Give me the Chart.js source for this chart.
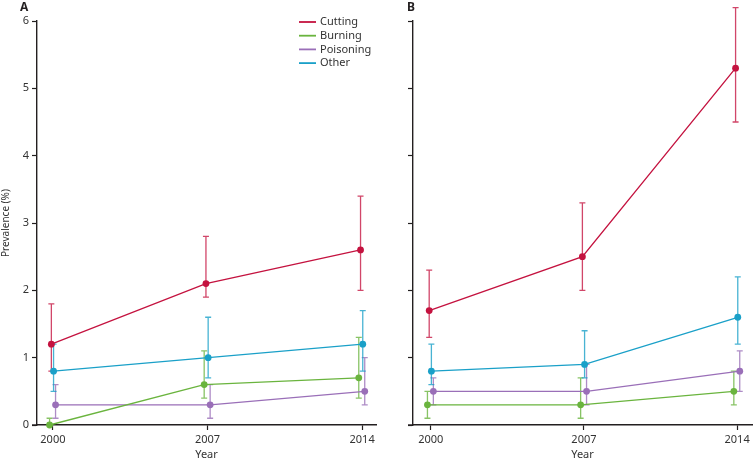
<!DOCTYPE html>
<html><head><meta charset="utf-8">
<script src="https://cdn.jsdelivr.net/npm/chart.js@4/dist/chart.umd.min.js"></script>
<style>
html,body{margin:0;padding:0;background:#fff;}
#wrap{position:relative;width:756px;height:461px;overflow:hidden;background:#fff;}
canvas{position:absolute;top:0;}
#ca{left:0;} #cb{left:380px;}
.lab{position:absolute;top:-2px;font:bold 12px "Noto Sans",sans-serif;color:#231f20;}
</style></head>
<body><div id="wrap">
<canvas id="ca" width="380" height="461"></canvas>
<canvas id="cb" width="376" height="461"></canvas>
<div class="lab" style="left:20px">A</div>
<div class="lab" style="left:407px">B</div>
</div>
<script>
const years = [2000, 2007, 2014];
const seriesNames = ['Cutting', 'Burning', 'Poisoning', 'Other'];
const yTicks = [0, 1, 2, 3, 4, 5, 6];
// Panel A
const aCutting = [1.2, 2.1, 2.6];
const aCuttingLow = [0.8, 1.9, 2.0];
const aCuttingHigh = [1.8, 2.8, 3.4];
const aBurning = [0.0, 0.6, 0.7];
const aBurningLow = [0.0, 0.4, 0.4];
const aBurningHigh = [0.1, 1.1, 1.3];
const aPoisoning = [0.3, 0.3, 0.5];
const aPoisoningLow = [0.1, 0.1, 0.3];
const aPoisoningHigh = [0.6, 0.6, 1.0];
const aOther = [0.8, 1.0, 1.2];
const aOtherLow = [0.5, 0.7, 0.8];
const aOtherHigh = [1.2, 1.6, 1.7];
// Panel B
const bCutting = [1.7, 2.5, 5.3];
const bCuttingLow = [1.3, 2.0, 4.5];
const bCuttingHigh = [2.3, 3.3, 6.2];
const bBurning = [0.3, 0.3, 0.5];
const bBurningLow = [0.1, 0.1, 0.3];
const bBurningHigh = [0.5, 0.7, 0.8];
const bPoisoning = [0.5, 0.5, 0.8];
const bPoisoningLow = [0.3, 0.3, 0.5];
const bPoisoningHigh = [0.7, 0.9, 1.1];
const bOther = [0.8, 0.9, 1.6];
const bOtherLow = [0.6, 0.7, 1.2];
const bOtherHigh = [1.2, 1.4, 2.2];

// styling (not data)
const colors = {Cutting:'#c4123f', Burning:'#6ab43e', Poisoning:'#9a6fb8', Other:'#1aa0c8'};
const barColors = {Cutting:'rgba(196,18,63,0.78)', Burning:'rgba(106,180,62,0.8)', Poisoning:'rgba(154,111,184,0.8)', Other:'rgba(26,160,200,0.8)'};
const dodge = {Cutting:-0.07, Burning:-0.15, Poisoning:0.12, Other:0.03};
const axisColor = '#231f20';
const textColor = '#333';
const FONT = '"Noto Sans", sans-serif';

function makeSets(vals, lows, highs) {
  return seriesNames.map((name, i) => ({
    label: name,
    data: years.map((yr, j) => ({x: yr + dodge[name], y: vals[i][j]})),
    lows: lows[i], highs: highs[i],
    borderColor: colors[name],
    backgroundColor: colors[name],
    pointBackgroundColor: colors[name],
    pointBorderWidth: 0,
    pointRadius: 3.4,
    borderWidth: 1.3,
    tension: 0,
    clip: false
  }));
}

const errorBars = {
  id: 'errorBars',
  beforeDatasetsDraw(chart) {
    const ctx = chart.ctx, xs = chart.scales.x, ys = chart.scales.y;
    chart.data.datasets.forEach(ds => {
      ctx.save();
      ctx.strokeStyle = barColors[ds.label];
      ctx.lineWidth = 1.3;
      ds.data.forEach((p, j) => {
        const x = xs.getPixelForValue(p.x);
        const y1 = ys.getPixelForValue(ds.lows[j]);
        const y2 = ys.getPixelForValue(ds.highs[j]);
        ctx.beginPath();
        ctx.moveTo(x, y1); ctx.lineTo(x, y2);
        ctx.moveTo(x - 3, y1); ctx.lineTo(x + 3, y1);
        ctx.moveTo(x - 3, y2); ctx.lineTo(x + 3, y2);
        ctx.stroke();
      });
      ctx.restore();
    });
  }
};

const axisExtend = {
  id: 'axisExtend',
  afterDraw(chart) {
    const ctx = chart.ctx, a = chart.chartArea;
    ctx.save();
    ctx.strokeStyle = axisColor;
    ctx.lineWidth = 1.4;
    ctx.beginPath();
    ctx.moveTo(a.left - 5, a.bottom); ctx.lineTo(a.left, a.bottom);
    ctx.stroke();
    ctx.restore();
  }
};

const legendPlugin = {
  id: 'cornerLegend',
  afterDraw(chart, args, opts) {
    if (!opts.show) return;
    const ctx = chart.ctx;
    ctx.save();
    ctx.font = '11px ' + FONT;
    ctx.textBaseline = 'middle';
    chart.data.datasets.forEach((ds, i) => {
      const y = 22 + i * 13.7;
      ctx.strokeStyle = colors[ds.label];
      ctx.lineWidth = 1.8;
      ctx.beginPath(); ctx.moveTo(299, y); ctx.lineTo(316, y); ctx.stroke();
      ctx.fillStyle = textColor;
      ctx.fillText(ds.label, 320, y);
    });
    ctx.restore();
  }
};

function makeChart(id, datasets, opt) {
  return new Chart(document.getElementById(id), {
    type: 'line',
    data: {datasets},
    plugins: [errorBars, legendPlugin, axisExtend],
    options: {
      responsive: false, animation: false, devicePixelRatio: 1,
      layout: {padding: {top: 21, right: opt.padRight, bottom: 0, left: 0}},
      plugins: {legend: {display: false}, tooltip: {enabled: false}, cornerLegend: {show: opt.legend}},
      scales: {
        x: {
          type: 'linear', min: opt.xmin, max: opt.xmax,
          afterBuildTicks: s => { s.ticks = years.map(v => ({value: v})); },
          grid: {display: true, drawOnChartArea: false, drawTicks: true, tickLength: 5, tickColor: axisColor, tickWidth: 1.2},
          border: {display: true, color: axisColor, width: 1.4},
          ticks: {callback: v => String(v), padding: 3, color: textColor, font: {family: FONT, size: 11}, maxRotation: 0},
          title: {display: true, text: 'Year', color: textColor, font: {family: FONT, size: 11}, padding: {top: 0, bottom: 0}},
          afterFit: s => { s.height = 36; }
        },
        y: {
          type: 'linear', min: 0, max: 6,
          afterBuildTicks: s => { s.ticks = yTicks.map(v => ({value: v})); },
          grid: {display: true, drawOnChartArea: false, drawTicks: true, tickLength: 5, tickColor: axisColor, tickWidth: 1.2},
          border: {display: true, color: axisColor, width: 1.4},
          ticks: {display: opt.yLabels, padding: 3, color: textColor, font: {family: FONT, size: 11}},
          title: {display: opt.yLabels, text: 'Prevalence (%)', color: textColor, font: {family: FONT, size: 10}, padding: 0},
          afterFit: s => { s.width = opt.yWidth; }
        }
      }
    }
  });
}

makeChart('ca',
  makeSets([aCutting, aBurning, aPoisoning, aOther], [aCuttingLow, aBurningLow, aPoisoningLow, aOtherLow], [aCuttingHigh, aBurningHigh, aPoisoningHigh, aOtherHigh]),
  {xmin: 1999.28, xmax: 2014.63, yWidth: 37, padRight: 2, legend: true, yLabels: true});
makeChart('cb',
  makeSets([bCutting, bBurning, bPoisoning, bOther], [bCuttingLow, bBurningLow, bPoisoningLow, bOtherLow], [bCuttingHigh, bBurningHigh, bPoisoningHigh, bOtherHigh]),
  {xmin: 1999.19, xmax: 2014.68, yWidth: 33, padRight: 1, legend: false, yLabels: false});
</script>
</body></html>
